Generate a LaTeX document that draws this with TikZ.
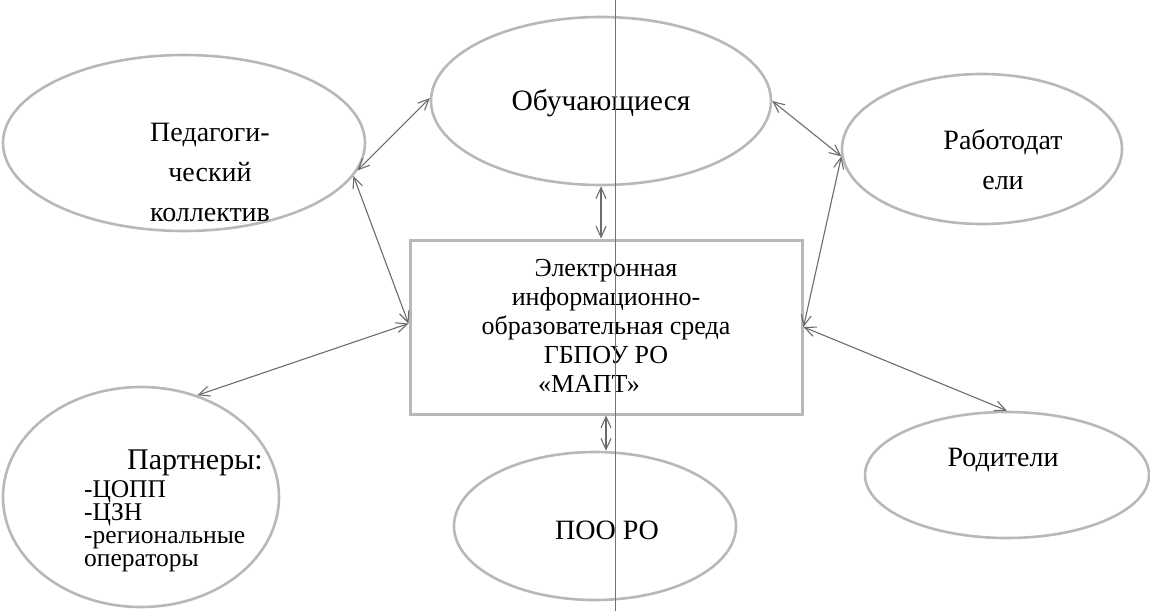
\documentclass[tikz,border=0pt]{standalone}
\usepackage{fontspec}
\setmainfont{Liberation Serif}
\newfontfamily\tnr{Liberation Serif}
\usetikzlibrary{shapes.geometric,arrows.meta}
\begin{document}
\begin{tikzpicture}[x=1pt,y=-1pt,
  oval/.style={ellipse,draw=black!28,line width=2.6pt,inner sep=0pt},
  frame/.style={rectangle,draw=black!28,line width=3pt,inner sep=0pt},
  lbl/.style={font=\tnr\fontsize{28}{40}\selectfont,align=center,inner sep=0pt},
  boxtxt/.style={font=\tnr\fontsize{26}{29}\selectfont,align=center,inner sep=0pt},
  link/.style={draw=black!58,line width=1.1pt,
    {Straight Barb[length=11pt,width=10pt]}-{Straight Barb[length=11pt,width=10pt]}}
]
\useasboundingbox (0,0) rectangle (1150,611);

% shapes
\node[oval,minimum width=340pt,minimum height=168pt] (obu) at (601,101) {};
\node[oval,minimum width=362pt,minimum height=176pt] (ped) at (184,143) {};
\node[oval,minimum width=280pt,minimum height=150pt] (rab) at (982,149) {};
\node[frame,minimum width=392pt,minimum height=174pt] (box) at (606,327) {};
\node[oval,minimum width=276pt,minimum height=220pt] (par) at (141,497) {};
\node[oval,minimum width=282pt,minimum height=148pt] (poo) at (595,526) {};
\node[oval,minimum width=284pt,minimum height=126pt] (rod) at (1007,475) {};

% texts
\node[lbl,font=\tnr\fontsize{29.5}{40}\selectfont] (obuT) at (601,103) {Обучающиеся};
\node[lbl] (pedT) at (210,172) {Педагоги-\\ческий\\коллектив};
\node[lbl] (rabT) at (1003,160) {Работодат\\ели};
\node[lbl] (rodT) at (1003,460) {Родители};
\node[lbl] (pooT) at (607,530) {ПОО РО};
\node[boxtxt] (boxT) at (606,326) {Электронная\\информационно-\\образовательная среда\\ГБПОУ РО\\«МАПТ»\hspace*{34pt}};
\node[lbl,font=\tnr\fontsize{30}{30}\selectfont] (parT) at (195,463) {Партнеры:};
\node[inner sep=0pt,anchor=north west,align=left,font=\tnr\fontsize{25.5}{23}\selectfont] (parL) at (84,480)
  {-ЦОПП\\-ЦЗН\\-региональные\\операторы};

% connectors
\draw[link] (ped.-9) -- (obu.179);
\draw[link] (ped.-11) -- (box.179);
\draw[link] (obu.south) -- (obu.south |- box.north);
\draw[link] (obu.east) -- (rab.183);
\draw[link] (rab.183) -- (box.east);
\draw[link] (box.east) -- (rod.north);
\draw[link] (box.179) -- (par.61);
\draw[link] (box.south) -- (box.south |- poo.north);

% vertical scan line
\draw[black!55,line width=1pt] (615.5,0) -- (615.5,611);
\end{tikzpicture}
\end{document}
